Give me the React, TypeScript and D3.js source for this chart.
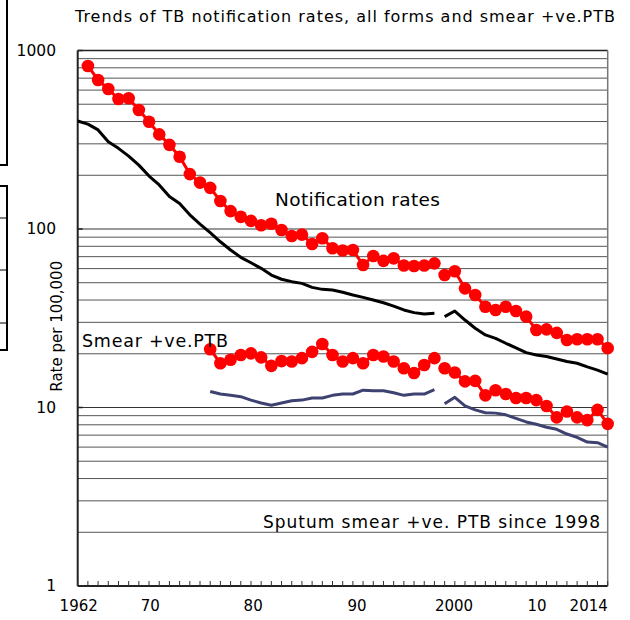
import React from "react";
import * as d3 from "d3";

// ---- data ----
const notifYears1 = d3.range(1963, 1998);
const notifRate1 = [819, 684, 608, 535, 540, 464, 399, 339, 296, 254, 203, 182, 170, 143.5, 126, 117, 111, 105, 107, 98.7, 91.4, 93, 82.4, 88.8, 78, 75.8, 76.3, 62.8, 70.6, 66.3, 68.5, 62.4, 62.1, 62.4, 64.2];
const notifYears2 = d3.range(1998, 2015);
const notifRate2 = [55.2, 58, 46.5, 42.7, 36.7, 35.2, 36.7, 34.7, 32.3, 27.2, 27.4, 26.2, 23.9, 24.1, 24.1, 24.1, 21.5];

const allYears1 = d3.range(1962, 1998);
const allRate1 = [403, 387, 359, 308, 283, 256, 228, 198, 176.5, 152, 139, 120, 106.6, 95.3, 84.8, 76.3, 69.4, 64.7, 60.2, 55.2, 52.3, 50.7, 49.6, 47.1, 45.9, 45.5, 44.2, 42.7, 41.4, 40.0, 38.6, 37.0, 35.2, 34.0, 33.4, 33.7];
const allYears2 = d3.range(1998, 2015);
const allRate2 = [32.3, 34.7, 30.9, 27.8, 25.5, 24.4, 22.9, 21.6, 20.3, 19.7, 19.3, 18.7, 18.1, 17.7, 16.9, 16.2, 15.4];

const smearYears1 = d3.range(1975, 1998);
const smearRedRate1 = [21.2, 17.7, 18.5, 19.7, 20.1, 19.1, 17.1, 18.2, 18.1, 18.9, 20.5, 22.7, 19.7, 18.1, 18.9, 17.7, 19.7, 19.3, 18.1, 16.6, 15.6, 17.3, 18.9];
const smearYears2 = d3.range(1998, 2015);
const smearRedRate2 = [16.6, 15.7, 14.0, 14.1, 11.7, 12.5, 11.9, 11.3, 11.3, 11.0, 10.2, 8.8, 9.5, 8.8, 8.5, 9.7, 8.1];

const smearNavyRate1 = [12.3, 11.9, 11.7, 11.5, 11.0, 10.6, 10.3, 10.6, 10.9, 11.0, 11.3, 11.3, 11.7, 11.9, 11.9, 12.5, 12.4, 12.4, 12.1, 11.7, 11.9, 11.9, 12.6];
const smearNavyRate2 = [10.5, 11.4, 10.2, 9.7, 9.35, 9.3, 9.1, 8.7, 8.3, 8.05, 7.75, 7.55, 7.1, 6.8, 6.4, 6.35, 6.0];

const yTickValues = [1, 10, 100, 1000];
const xLabelYears = [1962, 1970, 1980, 1990, 2000, 2010, 2014];
const xLabelTexts = ["1962", "70", "80", "90", "2000", "10", "2014"];
const xLabelNudge = [1, -9, -8, -6, -11, -30, -19];

const title = "Trends of TB notification rates, all forms and smear +ve.PTB";

// ---- layout ----
const W = 630, H = 620;
const x = d3.scaleLinear().domain([1962, 2014]).range([77.7, 607.7]);
const y = d3.scaleLog().domain([1, 1000]).range([586, 50.5]);

const FONT = "DejaVu Sans, Verdana, sans-serif";

function pts(years: number[], vals: number[]) {
  return years.map((yr, i) => [yr, vals[i]] as [number, number]);
}

export default function App() {
  const line = d3.line<[number, number]>().x(d => x(d[0])).y(d => y(d[1]));
  const gridVals: number[] = [];
  for (let e = 0; e < 3; e++) for (let m = 2; m <= 9; m++) gridVals.push(m * Math.pow(10, e));
  const [x0, x1] = x.range();
  const [yb, yt] = y.range();
  const years = d3.range(1962, 2015);

  const red1 = pts(notifYears1, notifRate1);
  const red2 = pts(notifYears2, notifRate2);
  const blk1 = pts(allYears1, allRate1);
  const blk2 = pts(allYears2, allRate2);
  const sr1 = pts(smearYears1, smearRedRate1);
  const sr2 = pts(smearYears2, smearRedRate2);
  const nv1 = pts(smearYears1, smearNavyRate1);
  const nv2 = pts(smearYears2, smearNavyRate2);

  return (
    <svg width={W} height={H} style={{ position: "absolute", left: 0, top: 0, background: "#fff" }} fontFamily={FONT}>
      <rect x={0} y={0} width={W} height={H} fill="#fff" />
      {/* cropped boxes at left edge */}
      <rect x={-5} y={-5} width={12} height={170} fill="none" stroke="#000" strokeWidth={2} />
      <rect x={-5} y={186} width={12} height={164} fill="none" stroke="#000" strokeWidth={2} />
      {[218, 270, 323].map(v => <line key={v} x1={0} x2={7} y1={v} y2={v} stroke="#000" strokeWidth={1} />)}

      <text x={75} y={22} fontSize={16} textLength={540} lengthAdjust="spacing" fill="#000">{title}</text>

      {/* gridlines */}
      {gridVals.map(v => (
        <line key={v} x1={x0} x2={x1} y1={y(v)} y2={y(v)} stroke="#555" strokeWidth={1} />
      ))}
      {[10, 100].map(v => (
        <line key={"g" + v} x1={x0} x2={x1} y1={y(v)} y2={y(v)} stroke="#333" strokeWidth={1} />
      ))}

      {/* frame */}
      <line x1={x0} x2={x1} y1={yt} y2={yt} stroke="#222" strokeWidth={1.5} />
      <line x1={x1} x2={x1} y1={yt} y2={yb} stroke="#777" strokeWidth={1.5} />
      <line x1={x0} x2={x0} y1={yt} y2={yb} stroke="#222" strokeWidth={2} />
      <line x1={x0} x2={x1} y1={yb} y2={yb} stroke="#222" strokeWidth={2} />

      {/* x ticks */}
      {years.map(yr => (
        <line key={yr} x1={x(yr)} x2={x(yr)} y1={yb} y2={yb - 5} stroke="#333" strokeWidth={1} />
      ))}
      {/* y major ticks */}
      {yTickValues.map(v => (
        <line key={"t" + v} x1={x0} x2={x0 + 5} y1={y(v)} y2={y(v)} stroke="#222" strokeWidth={1.5} />
      ))}

      {/* y labels */}
      {yTickValues.map(v => (
        <text key={"l" + v} x={56} y={y(v)} dy="0.35em" textAnchor="end" fontSize={15.5} fill="#000">{v}</text>
      ))}
      <text transform={`translate(62,${(y(10) + y(100)) / 2 + 8}) rotate(-90)`} textAnchor="middle" fontSize={15} fill="#000">Rate per 100,000</text>

      {/* x labels */}
      {xLabelYears.map((yr, i) => (
        <text key={yr} x={x(yr) + xLabelNudge[i]} y={611} textAnchor="middle" fontSize={15} fill="#000">{xLabelTexts[i]}</text>
      ))}

      {/* series: black all forms */}
      {[blk1, blk2].map((d, i) => (
        <path key={"b" + i} d={line(d) || ""} fill="none" stroke="#000" strokeWidth={3} strokeLinejoin="round" />
      ))}
      {/* navy smear */}
      {[nv1, nv2].map((d, i) => (
        <path key={"n" + i} d={line(d) || ""} fill="none" stroke="#3e4270" strokeWidth={3} strokeLinejoin="round" />
      ))}
      {/* red series */}
      {[red1, red2, sr1, sr2].map((d, i) => (
        <g key={"r" + i}>
          <path d={line(d) || ""} fill="none" stroke="#ff0000" strokeWidth={3} />
          {d.map(p => <circle key={p[0]} cx={x(p[0])} cy={y(p[1])} r={6.3} fill="#ff0000" />)}
        </g>
      ))}

      {/* annotations */}
      <text x={275} y={206} fontSize={18.5} textLength={165} lengthAdjust="spacing" fill="#000">Notification rates</text>
      <text x={82} y={347} fontSize={17.5} textLength={146} lengthAdjust="spacing" fill="#000">Smear +ve.PTB</text>
      <text x={263} y={528} fontSize={17} textLength={337} lengthAdjust="spacing" fill="#000">Sputum smear +ve. PTB since 1998</text>
    </svg>
  );
}
